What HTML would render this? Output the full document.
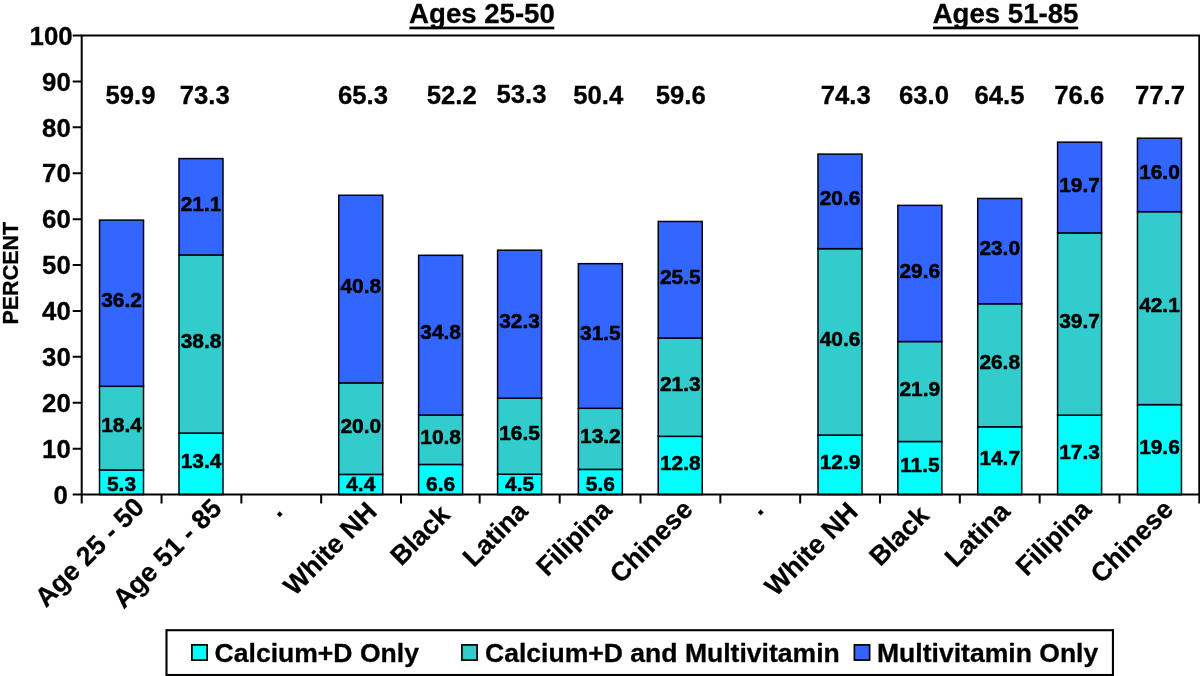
<!DOCTYPE html>
<html lang="en">
<head>
<meta charset="utf-8">
<title>Supplement use by age and race/ethnicity</title>
<style>
html,body{margin:0;padding:0;background:#fff;}
body{width:1200px;height:676px;overflow:hidden;}
svg{display:block;will-change:transform;}
text{font-family:"Liberation Sans", Arial, Helvetica, sans-serif;font-weight:bold;fill:#000;}
.in{font-size:20.9px;text-anchor:middle;stroke:#000;stroke-width:0.5px;stroke-linejoin:round;}
.top{font-size:25.7px;text-anchor:middle;stroke:#000;stroke-width:0.3px;}
.ax{font-size:25.8px;text-anchor:end;stroke:#000;stroke-width:0.3px;}
.xl{font-size:26.7px;text-anchor:end;stroke:#000;stroke-width:0.25px;}
.head{font-size:27.6px;text-anchor:start;stroke:#000;stroke-width:0.3px;}
.leg{font-size:26.55px;text-anchor:start;stroke:#000;stroke-width:0.3px;}
.yt{font-size:21.5px;text-anchor:middle;stroke:#000;stroke-width:0.3px;}
.bar{stroke:#000010;stroke-width:1.5;}
.axl{stroke:#000;stroke-width:2;fill:none;}
</style>
</head>
<body>
<svg width="1200" height="676" viewBox="0 0 1200 676">
<rect x="0" y="0" width="1200" height="676" fill="#fff"/>
<g id="bars">
<rect class="bar" x="99.52" y="469.97" width="44.00" height="24.63" fill="#00FFFF"/>
<rect class="bar" x="99.52" y="386.29" width="44.00" height="83.67" fill="#33CCCC"/>
<rect class="bar" x="99.52" y="220.10" width="44.00" height="166.19" fill="#3366FF"/>
<rect class="bar" x="178.99" y="433.08" width="44.00" height="61.52" fill="#00FFFF"/>
<rect class="bar" x="178.99" y="254.95" width="44.00" height="178.13" fill="#33CCCC"/>
<rect class="bar" x="178.99" y="158.58" width="44.00" height="96.37" fill="#3366FF"/>
<rect class="bar" x="338.74" y="474.40" width="44.00" height="20.20" fill="#00FFFF"/>
<rect class="bar" x="338.74" y="382.88" width="44.00" height="91.52" fill="#33CCCC"/>
<rect class="bar" x="338.74" y="195.27" width="44.00" height="187.61" fill="#3366FF"/>
<rect class="bar" x="418.61" y="464.45" width="44.00" height="30.15" fill="#00FFFF"/>
<rect class="bar" x="418.61" y="415.07" width="44.00" height="49.38" fill="#33CCCC"/>
<rect class="bar" x="418.61" y="255.30" width="44.00" height="159.77" fill="#3366FF"/>
<rect class="bar" x="497.59" y="474.24" width="44.00" height="20.36" fill="#00FFFF"/>
<rect class="bar" x="497.59" y="398.19" width="44.00" height="76.05" fill="#33CCCC"/>
<rect class="bar" x="497.59" y="250.20" width="44.00" height="147.99" fill="#3366FF"/>
<rect class="bar" x="578.36" y="469.39" width="44.00" height="25.21" fill="#00FFFF"/>
<rect class="bar" x="578.36" y="408.29" width="44.00" height="61.10" fill="#33CCCC"/>
<rect class="bar" x="578.36" y="263.67" width="44.00" height="144.62" fill="#3366FF"/>
<rect class="bar" x="658.23" y="436.34" width="44.00" height="58.26" fill="#00FFFF"/>
<rect class="bar" x="658.23" y="338.05" width="44.00" height="98.29" fill="#33CCCC"/>
<rect class="bar" x="658.23" y="221.48" width="44.00" height="116.57" fill="#3366FF"/>
<rect class="bar" x="817.98" y="435.08" width="44.00" height="59.52" fill="#00FFFF"/>
<rect class="bar" x="817.98" y="248.68" width="44.00" height="186.39" fill="#33CCCC"/>
<rect class="bar" x="817.98" y="154.11" width="44.00" height="94.57" fill="#3366FF"/>
<rect class="bar" x="897.85" y="441.50" width="44.00" height="53.10" fill="#00FFFF"/>
<rect class="bar" x="897.85" y="341.56" width="44.00" height="99.94" fill="#33CCCC"/>
<rect class="bar" x="897.85" y="205.37" width="44.00" height="136.19" fill="#3366FF"/>
<rect class="bar" x="977.72" y="426.81" width="44.00" height="67.79" fill="#00FFFF"/>
<rect class="bar" x="977.72" y="303.77" width="44.00" height="123.04" fill="#33CCCC"/>
<rect class="bar" x="977.72" y="198.48" width="44.00" height="105.29" fill="#3366FF"/>
<rect class="bar" x="1057.60" y="415.18" width="44.00" height="79.42" fill="#00FFFF"/>
<rect class="bar" x="1057.60" y="232.91" width="44.00" height="182.26" fill="#33CCCC"/>
<rect class="bar" x="1057.60" y="142.17" width="44.00" height="90.74" fill="#3366FF"/>
<rect class="bar" x="1137.47" y="404.62" width="44.00" height="89.98" fill="#00FFFF"/>
<rect class="bar" x="1137.47" y="211.69" width="44.00" height="192.93" fill="#33CCCC"/>
<rect class="bar" x="1137.47" y="138.23" width="44.00" height="73.46" fill="#3366FF"/>
</g>
<g id="axes">
<path class="axl" d="M81.70 503.60 V35.50 H1199.30 V503.60"/>
<path class="axl" d="M72.70 494.60 H1199.30"/>
<path class="axl" d="M72.70 448.69 H81.70 M72.70 402.78 H81.70 M72.70 356.87 H81.70 M72.70 310.96 H81.70 M72.70 265.05 H81.70 M72.70 219.14 H81.70 M72.70 173.23 H81.70 M72.70 127.32 H81.70 M72.70 81.41 H81.70 M72.70 35.50 H81.70"/>
<path class="axl" d="M161.53 494.60 V503.60 M241.36 494.60 V503.60 M321.19 494.60 V503.60 M401.02 494.60 V503.60 M479.65 494.60 V503.60 M559.68 494.60 V503.60 M640.51 494.60 V503.60 M720.34 494.60 V503.60 M800.17 494.60 V503.60 M880.00 494.60 V503.60 M959.83 494.60 V503.60 M1039.66 494.60 V503.60 M1119.49 494.60 V503.60"/>
</g>
<g id="ylabels">
<text class="ax" x="67.9" y="503.84">0</text>
<text class="ax" x="70.8" y="457.93">10</text>
<text class="ax" x="70.8" y="412.02">20</text>
<text class="ax" x="70.8" y="366.11">30</text>
<text class="ax" x="70.8" y="320.20">40</text>
<text class="ax" x="70.8" y="274.29">50</text>
<text class="ax" x="70.8" y="228.38">60</text>
<text class="ax" x="70.8" y="182.47">70</text>
<text class="ax" x="70.8" y="136.56">80</text>
<text class="ax" x="70.8" y="90.65">90</text>
<text class="ax" x="72.6" y="44.74">100</text>
</g>
<text class="yt" transform="translate(18.1 273.2) rotate(-90)">PERCENT</text>
<g id="inlabels">
<text class="in" x="121.52" y="490.98">5.3</text>
<text class="in" x="121.52" y="432.21">18.4</text>
<text class="in" x="121.52" y="307.28">36.2</text>
<text class="in" x="200.99" y="467.92">13.4</text>
<text class="in" x="200.99" y="348.10">38.8</text>
<text class="in" x="200.99" y="210.85">21.1</text>
<text class="in" x="360.74" y="490.98">4.4</text>
<text class="in" x="360.74" y="432.72">20.0</text>
<text class="in" x="360.74" y="293.16">40.8</text>
<text class="in" x="440.61" y="490.98">6.6</text>
<text class="in" x="440.61" y="443.84">10.8</text>
<text class="in" x="440.61" y="339.27">34.8</text>
<text class="in" x="519.59" y="490.98">4.5</text>
<text class="in" x="519.59" y="440.30">16.5</text>
<text class="in" x="519.59" y="328.28">32.3</text>
<text class="in" x="600.36" y="490.98">5.6</text>
<text class="in" x="600.36" y="442.92">13.2</text>
<text class="in" x="600.36" y="340.06">31.5</text>
<text class="in" x="680.23" y="469.55">12.8</text>
<text class="in" x="680.23" y="391.27">21.3</text>
<text class="in" x="680.23" y="283.84">25.5</text>
<text class="in" x="839.98" y="468.92">12.9</text>
<text class="in" x="839.98" y="345.96">40.6</text>
<text class="in" x="839.98" y="205.48">20.6</text>
<text class="in" x="919.85" y="472.13">11.5</text>
<text class="in" x="919.85" y="395.61">21.9</text>
<text class="in" x="919.85" y="277.55">29.6</text>
<text class="in" x="999.72" y="464.79">14.7</text>
<text class="in" x="999.72" y="369.38">26.8</text>
<text class="in" x="999.72" y="255.21">23.0</text>
<text class="in" x="1079.60" y="458.97">17.3</text>
<text class="in" x="1079.60" y="328.13">39.7</text>
<text class="in" x="1079.60" y="191.62">19.7</text>
<text class="in" x="1159.47" y="453.69">19.6</text>
<text class="in" x="1159.47" y="312.23">42.1</text>
<text class="in" x="1159.47" y="179.04">16.0</text>
</g>
<g id="toplabels">
<text class="top" x="130.5" y="103.5">59.9</text>
<text class="top" x="204.8" y="103.5">73.3</text>
<text class="top" x="363" y="103.5">65.3</text>
<text class="top" x="451.7" y="103.5">52.2</text>
<text class="top" x="521.5" y="102.7">53.3</text>
<text class="top" x="598.2" y="103.5">50.4</text>
<text class="top" x="680.8" y="103.5">59.6</text>
<text class="top" x="845.7" y="103.5">74.3</text>
<text class="top" x="924" y="103.5">63.0</text>
<text class="top" x="999.5" y="103.5">64.5</text>
<text class="top" x="1079.3" y="103.5">76.6</text>
<text class="top" x="1160" y="103.5">77.7</text>
</g>
<g id="headers">
<text class="head" x="409.1" y="23.2">Ages 25-50</text>
<rect x="409.4" y="26.6" width="144.9" height="2.7" fill="#000"/>
<text class="head" x="932.7" y="23.2">Ages 51-85</text>
<rect x="933.0" y="26.6" width="145.2" height="2.7" fill="#000"/>
</g>
<g id="xlabels">
<text class="xl" transform="translate(145.70 508.80) rotate(-45)">Age 25 - 50</text>
<text class="xl" transform="translate(223.30 510.00) rotate(-45)">Age 51 - 85</text>
<text class="xl" transform="translate(283.65 513.10) rotate(-45)">.</text>
<text class="xl" transform="translate(378.30 513.00) rotate(-45)">White NH</text>
<text class="xl" transform="translate(451.50 516.30) rotate(-45)">Black</text>
<text class="xl" transform="translate(529.20 512.80) rotate(-45)">Latina</text>
<text class="xl" transform="translate(613.30 511.50) rotate(-45)">Filipina</text>
<text class="xl" transform="translate(694.20 511.00) rotate(-45)">Chinese</text>
<text class="xl" transform="translate(764.65 511.20) rotate(-45)">.</text>
<text class="xl" transform="translate(859.50 513.40) rotate(-45)">White NH</text>
<text class="xl" transform="translate(930.50 517.00) rotate(-45)">Black</text>
<text class="xl" transform="translate(1011.40 512.90) rotate(-45)">Latina</text>
<text class="xl" transform="translate(1092.80 511.30) rotate(-45)">Filipina</text>
<text class="xl" transform="translate(1174.80 511.00) rotate(-45)">Chinese</text>
</g>
<g id="legend">
<rect x="166.5" y="630.2" width="946.45" height="44.8" fill="#fff" stroke="#000" stroke-width="2.1"/>
<rect x="191.9" y="644.9" width="15.2" height="15.2" fill="#00FFFF" stroke="#000" stroke-width="1.7"/>
<text class="leg" x="214.6" y="661.8">Calcium+D Only</text>
<rect x="461.9" y="644.9" width="15.2" height="15.2" fill="#33CCCC" stroke="#000" stroke-width="1.7"/>
<text class="leg" x="485.0" y="661.8">Calcium+D and Multivitamin</text>
<rect x="854.4" y="644.9" width="15.2" height="15.2" fill="#3366FF" stroke="#000" stroke-width="1.7"/>
<text class="leg" x="877.0" y="661.8">Multivitamin Only</text>
</g>
</svg>
</body>
</html>
